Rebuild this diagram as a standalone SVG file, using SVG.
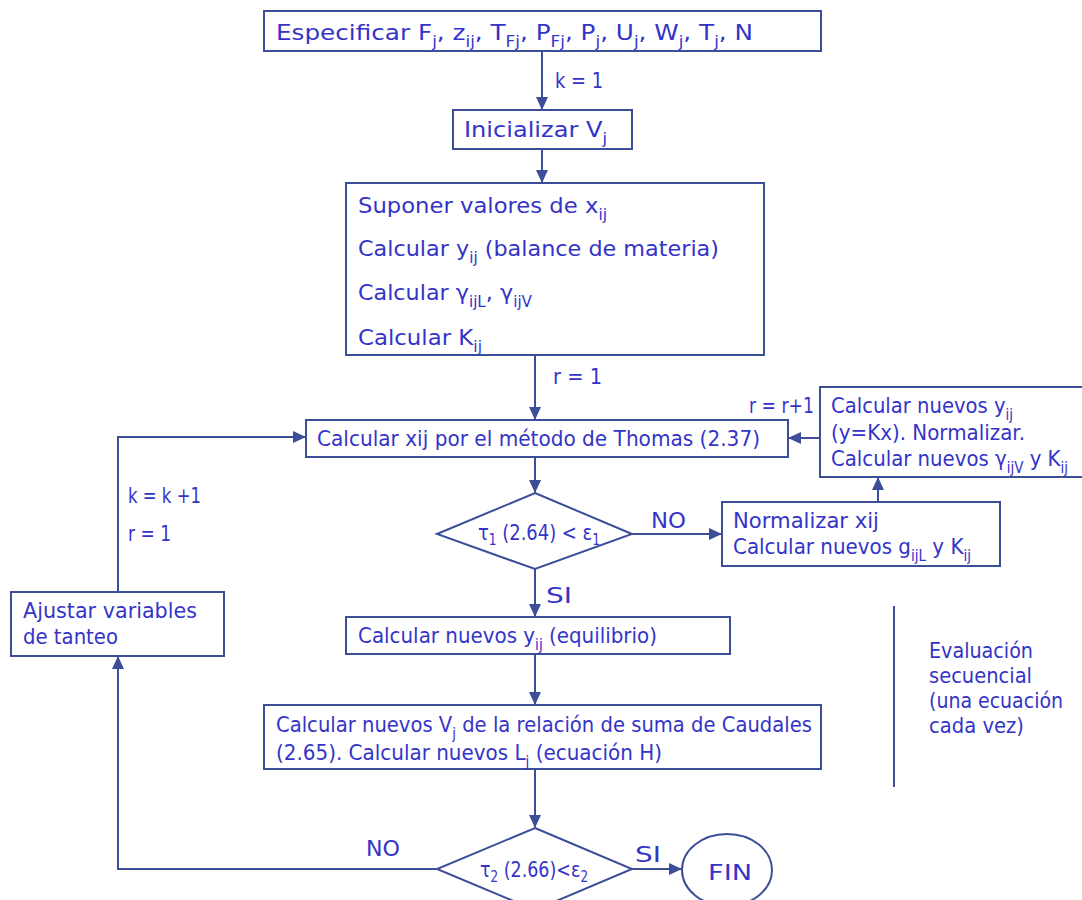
<svg xmlns="http://www.w3.org/2000/svg" width="1082" height="900" viewBox="0 0 1082 900">
  <defs>
    <marker id="arr" markerWidth="13" markerHeight="12" refX="12" refY="6" orient="auto" markerUnits="userSpaceOnUse">
      <path d="M0,0 L13,6 L0,12 z" fill="#3d4e99"/>
    </marker>
    <style>
      .box { fill: #ffffff; stroke: #3d4e99; stroke-width: 2; }
      .ln { fill: none; stroke: #3d4e99; stroke-width: 2; }
      text { font-family: "DejaVu Sans", "Liberation Sans", sans-serif; font-size: 22px; fill: #3434c8; }
      .lbl { font-size: 22px; }
      .s { font-size: 15px; }
    </style>
  </defs>
  <rect width="1082" height="900" fill="#ffffff"/>

  <g id="connectors">
    <line class="ln" x1="542" y1="51" x2="542" y2="109" marker-end="url(#arr)"/>
    <line class="ln" x1="542" y1="149" x2="542" y2="182" marker-end="url(#arr)"/>
    <line class="ln" x1="535" y1="355" x2="535" y2="419" marker-end="url(#arr)"/>
    <line class="ln" x1="535" y1="457" x2="535" y2="492" marker-end="url(#arr)"/>
    <line class="ln" x1="820" y1="438" x2="789" y2="438" marker-end="url(#arr)"/>
    <line class="ln" x1="632" y1="534" x2="721" y2="534" marker-end="url(#arr)"/>
    <line class="ln" x1="878" y1="502" x2="878" y2="478" marker-end="url(#arr)"/>
    <line class="ln" x1="535" y1="569" x2="535" y2="616" marker-end="url(#arr)"/>
    <line class="ln" x1="535" y1="654" x2="535" y2="704" marker-end="url(#arr)"/>
    <line class="ln" x1="535" y1="769" x2="535" y2="827" marker-end="url(#arr)"/>
    <line class="ln" x1="632" y1="869" x2="681" y2="869" marker-end="url(#arr)"/>
    <polyline class="ln" points="437,869 118,869 118,657" marker-end="url(#arr)"/>
    <polyline class="ln" points="118,592 118,437 305,437" marker-end="url(#arr)"/>
    <line class="ln" x1="894" y1="606" x2="894" y2="787"/>
    <text class="lbl" x="555" y="88" textLength="48" lengthAdjust="spacingAndGlyphs">k = 1</text>
    <text class="lbl" x="553" y="384" textLength="49" lengthAdjust="spacingAndGlyphs">r = 1</text>
    <text class="lbl" x="749" y="413" textLength="65" lengthAdjust="spacingAndGlyphs">r = r+1</text>
    <text class="lbl" x="651" y="528" textLength="35" lengthAdjust="spacingAndGlyphs">NO</text>
    <text class="lbl" x="546" y="603" textLength="26" lengthAdjust="spacingAndGlyphs">SI</text>
    <text class="lbl" x="366" y="856" textLength="34" lengthAdjust="spacingAndGlyphs">NO</text>
    <text class="lbl" x="635" y="862" textLength="26" lengthAdjust="spacingAndGlyphs">SI</text>
    <text class="lbl" x="128" y="503" textLength="73" lengthAdjust="spacingAndGlyphs">k = k +1</text>
    <text class="lbl" x="128" y="541" textLength="43" lengthAdjust="spacingAndGlyphs">r = 1</text>
  </g>

  <g id="especificar">
    <rect class="box" x="264" y="11" width="557" height="40"/>
    <text x="276" y="40" textLength="477" lengthAdjust="spacingAndGlyphs">Especificar F<tspan class="s" dy="7">j</tspan><tspan dy="-7">, z</tspan><tspan class="s" dy="7">ij</tspan><tspan dy="-7">, T</tspan><tspan class="s" dy="7">Fj</tspan><tspan dy="-7">, P</tspan><tspan class="s" dy="7">Fj</tspan><tspan dy="-7">, P</tspan><tspan class="s" dy="7">j</tspan><tspan dy="-7">, U</tspan><tspan class="s" dy="7">j</tspan><tspan dy="-7">, W</tspan><tspan class="s" dy="7">j</tspan><tspan dy="-7">, T</tspan><tspan class="s" dy="7">j</tspan><tspan dy="-7">, N</tspan></text>
  </g>

  <g id="inicializar">
    <rect class="box" x="453" y="110" width="179" height="39"/>
    <text x="464" y="137" textLength="143" lengthAdjust="spacingAndGlyphs">Inicializar V<tspan class="s" dy="7">j</tspan></text>
  </g>

  <g id="suponer">
    <rect class="box" x="346" y="183" width="418" height="172"/>
    <text x="358" y="213" textLength="249" lengthAdjust="spacingAndGlyphs">Suponer valores de x<tspan class="s" dy="7">ij</tspan></text>
    <text x="358" y="256" textLength="361" lengthAdjust="spacingAndGlyphs">Calcular y<tspan class="s" dy="7">ij</tspan><tspan dy="-7"> (balance de materia)</tspan></text>
    <text x="358" y="300" textLength="174" lengthAdjust="spacingAndGlyphs">Calcular γ<tspan class="s" dy="7">ijL</tspan><tspan dy="-7">, γ</tspan><tspan class="s" dy="7">ijV</tspan></text>
    <text x="358" y="345" textLength="124" lengthAdjust="spacingAndGlyphs">Calcular K<tspan class="s" dy="7">ij</tspan></text>
  </g>

  <g id="thomas">
    <rect class="box" x="306" y="420" width="482" height="37"/>
    <text x="317" y="446" textLength="443" lengthAdjust="spacingAndGlyphs">Calcular xij por el método de Thomas (2.37)</text>
  </g>

  <g id="nuevos-y">
    <rect class="box" x="820" y="387" width="270" height="90"/>
    <text x="831" y="413" textLength="182" lengthAdjust="spacingAndGlyphs">Calcular nuevos y<tspan class="s" dy="7">ij</tspan></text>
    <text x="831" y="440" textLength="194" lengthAdjust="spacingAndGlyphs">(y=Kx). Normalizar.</text>
    <text x="831" y="466" textLength="237" lengthAdjust="spacingAndGlyphs">Calcular nuevos γ<tspan class="s" dy="7">ijV</tspan><tspan dy="-7"> y K</tspan><tspan class="s" dy="7">ij</tspan></text>
  </g>

  <g id="tau1">
    <polygon class="box" points="535,493 632,534 535,569 437,534"/>
    <text x="478" y="540" textLength="122" lengthAdjust="spacingAndGlyphs">τ<tspan class="s" dy="5">1</tspan><tspan dy="-5"> (2.64) &lt; ε</tspan><tspan class="s" dy="5">1</tspan></text>
  </g>

  <g id="normalizar">
    <rect class="box" x="722" y="502" width="278" height="64"/>
    <text x="733" y="528" textLength="146" lengthAdjust="spacingAndGlyphs">Normalizar xij</text>
    <text x="733" y="554" textLength="238" lengthAdjust="spacingAndGlyphs">Calcular nuevos g<tspan class="s" dy="7">ijL</tspan><tspan dy="-7"> y K</tspan><tspan class="s" dy="7">ij</tspan></text>
  </g>

  <g id="equilibrio">
    <rect class="box" x="346" y="617" width="384" height="37"/>
    <text x="358" y="643" textLength="299" lengthAdjust="spacingAndGlyphs">Calcular nuevos y<tspan class="s" dy="7">ij</tspan><tspan dy="-7"> (equilibrio)</tspan></text>
  </g>

  <g id="caudales">
    <rect class="box" x="264" y="705" width="557" height="64"/>
    <text x="276" y="732" textLength="536" lengthAdjust="spacingAndGlyphs">Calcular nuevos V<tspan class="s" dy="7">j</tspan><tspan dy="-7"> de la relación de suma de Caudales</tspan></text>
    <text x="276" y="760" textLength="386" lengthAdjust="spacingAndGlyphs">(2.65). Calcular nuevos L<tspan class="s" dy="7">j</tspan><tspan dy="-7"> (ecuación H)</tspan></text>
  </g>

  <g id="tau2">
    <polygon class="box" points="535,828 632,869 535,910 437,869"/>
    <text x="480" y="877" textLength="108" lengthAdjust="spacingAndGlyphs">τ<tspan class="s" dy="5">2</tspan><tspan dy="-5"> (2.66)&lt;ε</tspan><tspan class="s" dy="5">2</tspan></text>
  </g>

  <g id="fin">
    <ellipse class="box" cx="727" cy="870" rx="45" ry="36"/>
    <text x="708" y="880" textLength="44" lengthAdjust="spacingAndGlyphs">FIN</text>
  </g>

  <g id="ajustar">
    <rect class="box" x="11" y="592" width="213" height="64"/>
    <text x="23" y="618" textLength="174" lengthAdjust="spacingAndGlyphs">Ajustar variables</text>
    <text x="23" y="644" textLength="95" lengthAdjust="spacingAndGlyphs">de tanteo</text>
  </g>

  <g id="nota">
    <text x="929" y="658" textLength="104" lengthAdjust="spacingAndGlyphs">Evaluación</text>
    <text x="929" y="683" textLength="103" lengthAdjust="spacingAndGlyphs">secuencial</text>
    <text x="929" y="708" textLength="134" lengthAdjust="spacingAndGlyphs">(una ecuación</text>
    <text x="929" y="733" textLength="95" lengthAdjust="spacingAndGlyphs">cada vez)</text>
  </g>
</svg>
